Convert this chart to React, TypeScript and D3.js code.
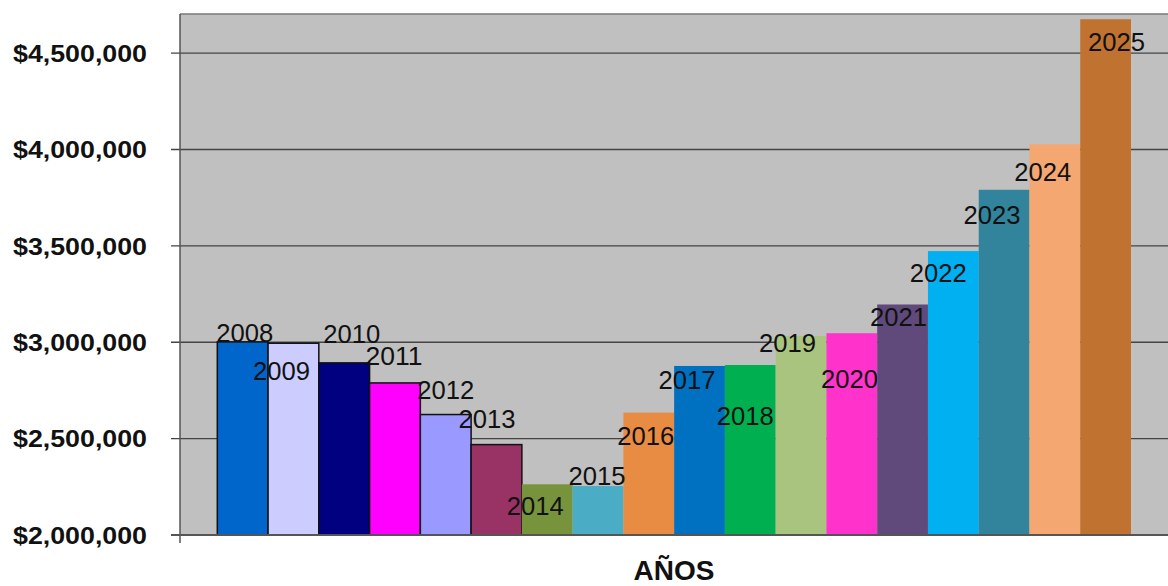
import React from "react";
import * as d3 from "d3";

const years = ["2008","2009","2010","2011","2012","2013","2014","2015","2016","2017","2018","2019","2020","2021","2022","2023","2024","2025"];
const values = [3002000, 2995000, 2893000, 2789000, 2625000, 2469000, 2263000, 2254000, 2635000, 2877000, 2882000, 3032000, 3047000, 3196000, 3473000, 3791000, 4027000, 4676000];
const colors = ["#0066CC","#CCCCFF","#000080","#FF00FF","#9999FF","#993366","#77933C","#4BACC6","#E88B43","#0070C0","#00B050","#A9C47F","#FF33CC","#604A7B","#00B0F0","#31849B","#F5A772","#C07330"];
const outlined = [true, true, true, true, true, true, false, false, false, false, false, false, false, false, false, false, false, false];
const yTicks = [2000000, 2500000, 3000000, 3500000, 4000000, 4500000];
const axisTitle = "AÑOS";
// label nudges relative to bar centre / bar top (px)
const labelDx = [2, -12, 7.5, -1, 0, -9.5, -12, -1, -3, -12.5, -5, -13.5, -2.3, -4, -15, -12, -12, 11];
const labelDy = [0, 37, -20, -18, -16, -17, 31, -1, 32, 23, 60, 16, 55, 22, 31, 34, 37, 32];

const W = 1168, H = 586;
const plotLeft = 180, plotRight = 1170, plotTop = 14, plotBottom = 535;

export default function App() {
  const y = d3.scaleLinear().domain([2000000, 4700000]).range([plotBottom, plotTop + 0.6]);
  const x = d3.scaleBand<string>().domain(years).range([217.3, 1131]).paddingInner(0).paddingOuter(0);
  const fmt = (v: number) => "$" + d3.format(",")(v);
  const font = "'Liberation Sans', Arial, sans-serif";
  return (
    <svg width={W} height={H} style={{ position: "absolute", left: 0, top: 0, background: "#fff" }}>
      <rect x={plotLeft} y={plotTop} width={plotRight - plotLeft} height={plotBottom - plotTop} fill="#C0C0C0" />
      <line x1={plotLeft} x2={plotRight} y1={plotTop} y2={plotTop} stroke="#7a7a7a" strokeWidth={1.5} />
      {yTicks.map((t) => (
        <g key={t}>
          <line x1={171} x2={plotRight} y1={y(t)} y2={y(t)} stroke="#444" strokeWidth={1.3} />
          <text x={147} y={y(t)} dy="0.36em" textAnchor="end" fontFamily={font} fontWeight="bold" fontSize={24} fill="#111" textLength={134} lengthAdjust="spacingAndGlyphs">{fmt(t)}</text>
        </g>
      ))}
      {years.map((yr, i) => (
        <rect key={yr} x={x(yr)} y={y(values[i])} width={x.bandwidth()} height={y(2000000) - y(values[i])}
          fill={colors[i]} stroke={outlined[i] ? "#111" : "none"} strokeWidth={outlined[i] ? 1.5 : 0} />
      ))}
      <line x1={plotLeft} x2={plotLeft} y1={plotTop} y2={543} stroke="#555" strokeWidth={1.5} />
      <line x1={171} x2={plotRight} y1={plotBottom} y2={plotBottom} stroke="#555" strokeWidth={1.8} />
      {years.map((yr, i) => (
        <text key={"l" + yr} x={(x(yr) as number) + x.bandwidth() / 2 + labelDx[i]} y={y(values[i]) + labelDy[i]}
          textAnchor="middle" fontFamily={font} fontSize={25} fill="#111" textLength={57} lengthAdjust="spacingAndGlyphs">{yr}</text>
      ))}
      <text x={674} y={580} textAnchor="middle" fontFamily={font} fontWeight="bold" fontSize={28} fill="#111">{axisTitle}</text>
    </svg>
  );
}
